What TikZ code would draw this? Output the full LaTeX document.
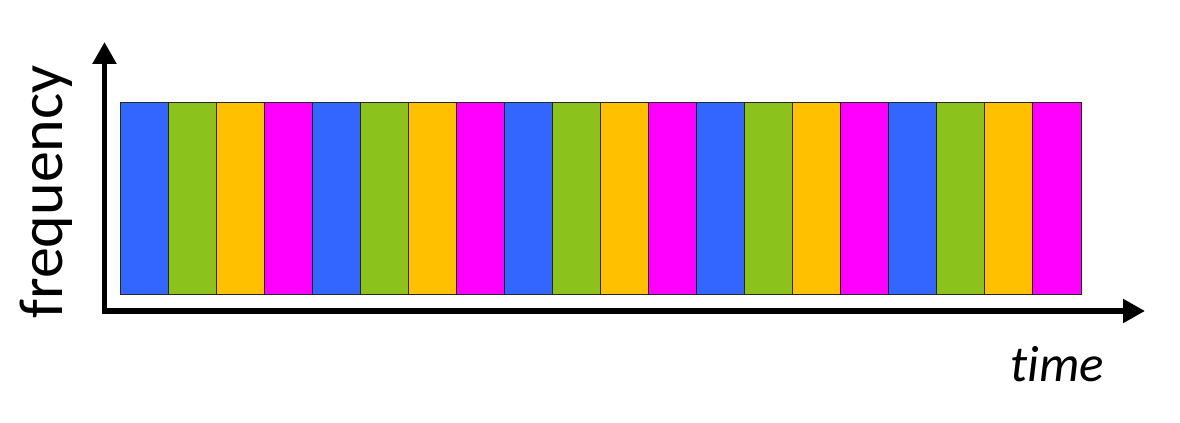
\documentclass[tikz,border=0pt]{standalone}
\usepackage{fontspec}
\setmainfont{Carlito}[Ligatures=NoCommon]
\usetikzlibrary{arrows.meta}
\definecolor{slotblue}{HTML}{3366FF}
\definecolor{slotgreen}{HTML}{8CC21C}
\definecolor{slotorange}{HTML}{FFC000}
\definecolor{slotmagenta}{HTML}{FF00FF}
\tikzset{
  slot/.style={draw=black!85,line width=.5pt},
  axis/.style={line width=2.6pt,line join=miter,{Triangle[length=11pt,width=11.5pt]}-{Triangle[length=11pt,width=11.5pt]}}
}
\begin{document}
\begin{tikzpicture}[x=.5pt,y=.5pt]
  \useasboundingbox (0,0) rectangle (1180,423);
  \coordinate (o) at (104.5,112);
  \coordinate (fy) at (104.5,381);
  \coordinate (tx) at (1145,112);
  % one slot per user, four users in turn
  \foreach \c [count=\i from 0] in {slotblue,slotgreen,slotorange,slotmagenta,
      slotblue,slotgreen,slotorange,slotmagenta,slotblue,slotgreen,slotorange,slotmagenta,
      slotblue,slotgreen,slotorange,slotmagenta,slotblue,slotgreen,slotorange,slotmagenta}
    \filldraw[slot,fill=\c] (120+\i*48.05,128) rectangle (120+\i*48.05+48.05,320);
  \draw[axis] (fy)--(o)--(tx);
  \node[rotate=90,font=\fontsize{31}{31}\selectfont] (freq) at (46,231) {frequency};
  \node[font=\fontsize{25.5}{25.5}\selectfont\itshape] (time) at (1057,59) {time};
\end{tikzpicture}
\end{document}
